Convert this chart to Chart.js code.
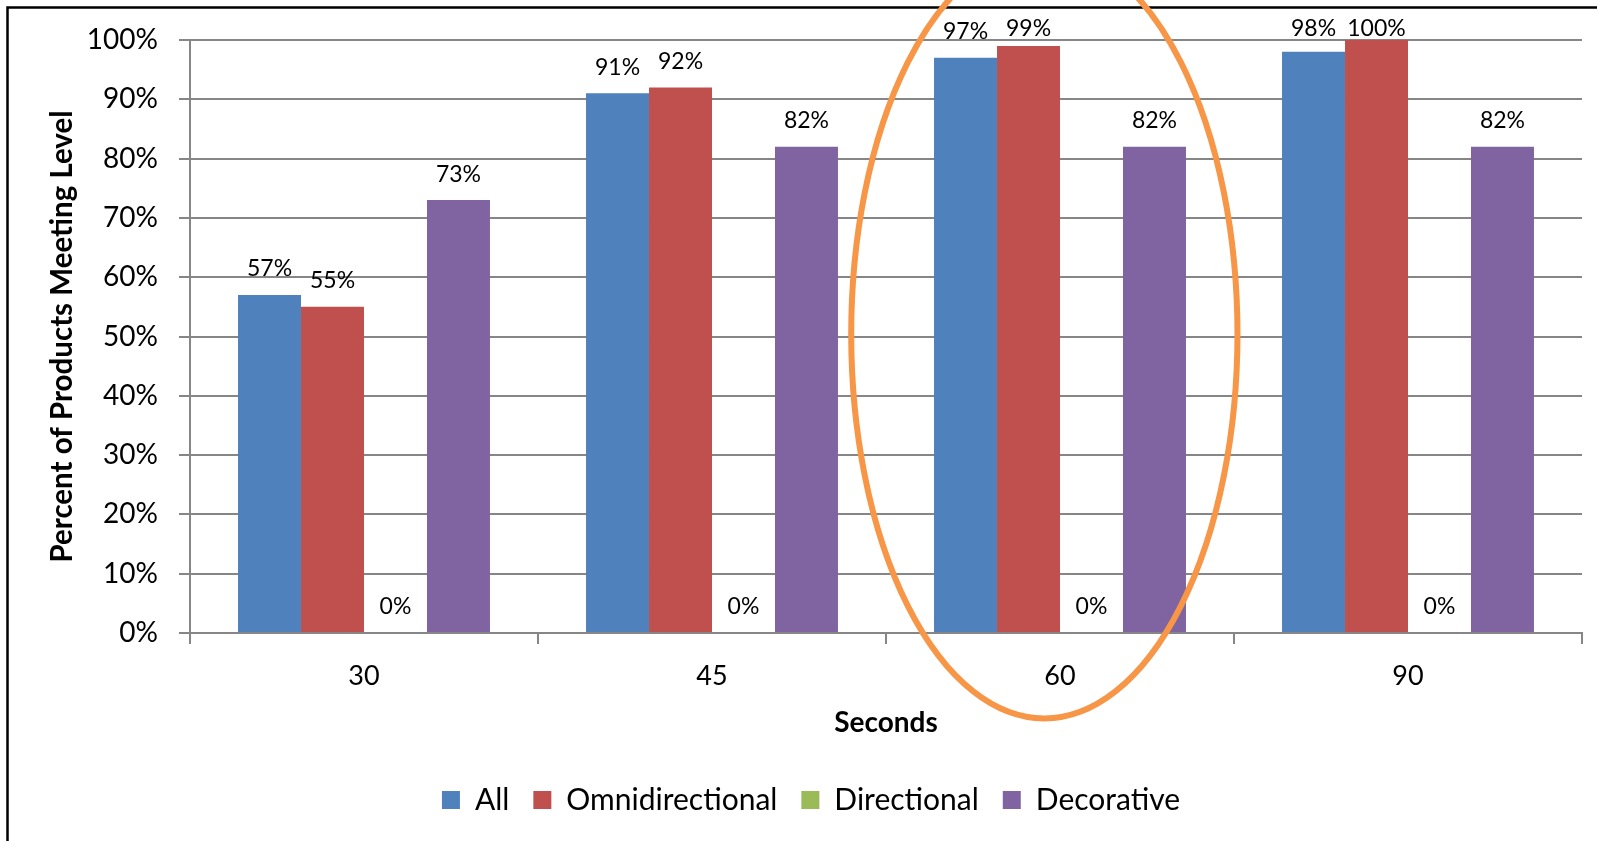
<!DOCTYPE html>
<html>
<head>
<meta charset="utf-8">
<title>Percent of Products Meeting Level</title>
<script src="https://cdn.jsdelivr.net/npm/chart.js@4/dist/chart.umd.min.js"></script>
<style>
  html, body { margin: 0; padding: 0; background: #fff; }
</style>
</head>
<body>
<canvas id="myChart" width="1597" height="841"></canvas>
<script>
// categories and series
var seconds = ['30', '45', '60', '90'];
var allValues = [57, 91, 97, 98];
var omniValues = [55, 92, 99, 100];
var directionalValues = [0, 0, 0, 0];
var decorativeValues = [73, 82, 82, 82];

// y axis: 0% .. 100% in steps of 10
var yMax = 100;
var yStep = 10;

// ring drawn around the 60 s group (in scale units)
var ringCategory = '60';
var ringShift = -0.045;     // categories
var ringHalfWidth = 0.555;  // categories
var ringCenter = 50.4;      // percent
var ringHalfHeight = 64.8;  // percent

var FONT = 'Lato';
var gridColor = '#868686';

/*文字ラベル（棒の上の値）*/
var valueLabels = {
    id: 'valueLabels',
    afterDatasetsDraw: function (chart) {
        var ctx = chart.ctx;
        ctx.save();
        ctx.font = '23px ' + FONT;
        ctx.fillStyle = '#000';
        ctx.textAlign = 'center';
        ctx.textBaseline = 'middle';
        chart.data.datasets.forEach(function (ds, i) {
            chart.getDatasetMeta(i).data.forEach(function (bar, j) {
                var y = Math.max(bar.y - 26, 29);
                ctx.fillText(ds.data[j] + '%', bar.x, y);
            });
        });
        ctx.restore();
    }
};

/*外枠*/
var frame = {
    id: 'frame',
    beforeDraw: function (chart) {
        var ctx = chart.ctx;
        ctx.save();
        ctx.fillStyle = '#fff';
        ctx.fillRect(0, 0, chart.width, chart.height);
        ctx.strokeStyle = '#000';
        ctx.lineWidth = 2.5;
        ctx.beginPath();
        ctx.moveTo(7.5, chart.height + 5);
        ctx.lineTo(7.5, 7.5);
        ctx.lineTo(chart.width + 5, 7.5);
        ctx.stroke();
        ctx.restore();
    }
};

/*オレンジの楕円*/
var ring = {
    id: 'ring',
    afterDraw: function (chart) {
        var x = chart.scales.x, y = chart.scales.y;
        var step = (x.right - x.left) / seconds.length;
        var cx = x.getPixelForValue(seconds.indexOf(ringCategory)) + ringShift * step;
        var cy = y.getPixelForValue(ringCenter);
        var rx = ringHalfWidth * step;
        var ry = Math.abs(y.getPixelForValue(ringCenter + ringHalfHeight) - cy);
        var ctx = chart.ctx;
        ctx.save();
        ctx.strokeStyle = '#F79646';
        ctx.lineWidth = 6;
        ctx.beginPath();
        ctx.ellipse(cx, cy, rx, ry, 0, 0, Math.PI * 2);
        ctx.stroke();
        ctx.restore();
    }
};

var ctx = document.getElementById('myChart').getContext('2d');
var myChart = new Chart(ctx, {
    type: 'bar',
    data: {
        labels: seconds,
        datasets: [
            { label: 'All', data: allValues, backgroundColor: '#4F81BD' },
            { label: 'Omnidirectional', data: omniValues, backgroundColor: '#C0504D' },
            { label: 'Directional', data: directionalValues, backgroundColor: '#9BBB59' },
            { label: 'Decorative', data: decorativeValues, backgroundColor: '#8064A2' }
        ]
    },
    options: {
        responsive: false,
        animation: false,
        events: [],
        layout: { padding: { left: 40, right: 15, top: 40, bottom: 16 } },
        datasets: {
            bar: { categoryPercentage: 0.724, barPercentage: 1.0, borderWidth: 0 }
        },
        scales: {
            x: {
                grid: {
                    offset: true,
                    drawOnChartArea: false,
                    drawTicks: true,
                    tickLength: 11,
                    color: gridColor,
                    lineWidth: 2
                },
                border: { color: gridColor, width: 2 },
                ticks: { color: '#000', padding: 16, font: { family: FONT, size: 27 } },
                title: {
                    display: true,
                    text: 'Seconds',
                    color: '#000',
                    font: { family: FONT, size: 28, weight: 'bold' },
                    padding: { top: 0, bottom: 21 }
                },
                afterFit: function (scale) { scale.height = 128; }
            },
            y: {
                min: 0,
                max: yMax,
                ticks: {
                    stepSize: yStep,
                    color: '#000',
                    padding: 21,
                    font: { family: FONT, size: 28 },
                    callback: function (v) { return v + '%'; }
                },
                grid: { color: gridColor, lineWidth: 2, tickLength: 11 },
                border: { color: gridColor, width: 2 },
                title: {
                    display: true,
                    text: 'Percent of Products Meeting Level',
                    color: '#000',
                    font: { family: FONT, size: 29.5, weight: 'bold' },
                    padding: { top: 5, bottom: 0 }
                },
                afterFit: function (scale) { scale.width = 150; }
            }
        },
        plugins: {
            legend: {
                position: 'bottom',
                labels: {
                    color: '#000',
                    boxWidth: 18,
                    boxHeight: 18,
                    padding: 24,
                    font: { family: FONT, size: 30 }
                }
            },
            tooltip: { enabled: false }
        }
    },
    plugins: [frame, valueLabels, ring]
});
</script>
</body>
</html>
